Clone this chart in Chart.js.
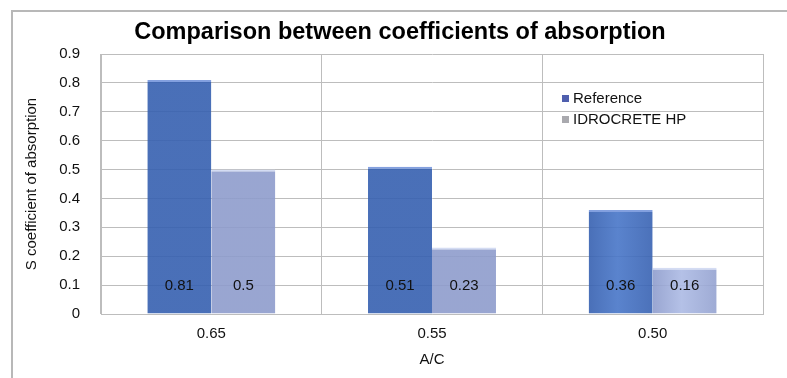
<!DOCTYPE html>
<html>
<head>
<meta charset="utf-8">
<script src="https://cdn.jsdelivr.net/npm/chart.js@4.4.1/dist/chart.umd.min.js"></script>
<style>
  html, body { margin: 0; padding: 0; background: #fff; }
  #wrap { position: relative; width: 787px; height: 378px; overflow: hidden; }
  #frame {
    position: absolute; left: 11px; top: 10px; width: 800px; height: 400px;
    border-top: 2px solid #b8b8b8; border-left: 2px solid #b8b8b8;
  }
  #graph { position: absolute; left: 0; top: 0; }
</style>
</head>
<body>
<div id="wrap">
  <div id="frame"></div>
  <canvas id="graph" width="787" height="378"></canvas>
</div>
<script>
// water/cement ratios on the x axis
const categories = ['0.65', '0.55', '0.50'];
const referenceValues = [0.81, 0.51, 0.36];
const idrocreteValues = [0.5, 0.23, 0.16];
const seriesNames = ['Reference', 'IDROCRETE HP'];
const chartTitle = 'Comparison between coefficients of absorption';

const FONT = '"Liberation Sans", Arial, Helvetica, sans-serif';

// horizontal shading across each bar, a bit like the old office 3d bars
const barShades = [
  ['rgba(54, 96, 176, 0.9)', 'rgba(72, 118, 200, 0.9)', 'rgba(56, 98, 178, 0.9)'],
  ['rgba(142, 156, 204, 0.9)', 'rgba(172, 186, 228, 0.9)', 'rgba(148, 162, 208, 0.9)']
];
const legendMarks = ['#4f5fae', '#a9a9ae'];

const shadeBars = {
  id: 'shadeBars',
  beforeDatasetsDraw(chart) {
    const ctx = chart.ctx;
    chart.data.datasets.forEach((ds, i) => {
      chart.getDatasetMeta(i).data.forEach(bar => {
        const half = bar.width / 2;
        const g = ctx.createLinearGradient(bar.x - half, 0, bar.x + half, 0);
        g.addColorStop(0, barShades[i][0]);
        g.addColorStop(0.45, barShades[i][1]);
        g.addColorStop(1, barShades[i][2]);
        bar.options.backgroundColor = g;
      });
    });
  }
};

// values written near the foot of each bar
const baseLabels = {
  id: 'baseLabels',
  afterDatasetsDraw(chart) {
    const ctx = chart.ctx;
    ctx.save();
    ctx.font = '15px ' + FONT;
    ctx.fillStyle = '#111';
    ctx.textAlign = 'center';
    ctx.textBaseline = 'middle';
    chart.data.datasets.forEach((ds, i) => {
      chart.getDatasetMeta(i).data.forEach((bar, j) => {
        ctx.fillText(String(ds.data[j]), bar.x, bar.base - 28);
      });
    });
    ctx.restore();
  }
};

// small legend inside the plot, upper right
const innerLegend = {
  id: 'innerLegend',
  afterDraw(chart) {
    const ctx = chart.ctx;
    const x = chart.chartArea.left + 461;
    let y = chart.chartArea.top + 44;
    ctx.save();
    ctx.font = '15px ' + FONT;
    ctx.textBaseline = 'middle';
    chart.data.datasets.forEach((ds, i) => {
      ctx.fillStyle = legendMarks[i];
      ctx.fillRect(x, y - 3, 7, 7);
      ctx.fillStyle = '#111';
      ctx.fillText(ds.label, x + 11, y + 1);
      y += 21;
    });
    ctx.restore();
  }
};

// heading centred on the whole frame rather than the plot
const heading = {
  id: 'heading',
  afterDraw(chart) {
    const ctx = chart.ctx;
    ctx.save();
    ctx.font = 'bold 23.5px ' + FONT;
    ctx.fillStyle = '#000';
    ctx.textAlign = 'center';
    ctx.textBaseline = 'middle';
    ctx.fillText(chartTitle, 400, 33);
    ctx.restore();
  }
};

const data1 = {
  labels: categories,
  datasets: [{
    label: seriesNames[0],
    data: referenceValues,
    borderColor: 'rgba(118, 150, 220, 0.9)',
    borderWidth: { top: 2, left: 0, right: 0, bottom: 0 },
    borderSkipped: 'bottom'
  }, {
    label: seriesNames[1],
    data: idrocreteValues,
    borderColor: 'rgba(210, 218, 242, 0.95)',
    borderWidth: { top: 2, left: 0, right: 0, bottom: 0 },
    borderSkipped: 'bottom'
  }]
};

const config = {
  type: 'bar',
  data: data1,
  plugins: [shadeBars, baseLabels, innerLegend, heading],
  options: {
    responsive: false,
    animation: false,
    layout: { padding: { top: 54, left: 14, right: 24, bottom: 0 } },
    datasets: {
      bar: { categoryPercentage: 0.58, barPercentage: 1 }
    },
    plugins: {
      legend: { display: false },
      tooltip: { enabled: false },
      title: { display: false }
    },
    scales: {
      x: {
        grid: { color: '#bdbdbd', drawTicks: false, offset: true },
        border: { color: '#bdbdbd' },
        ticks: { color: '#111', padding: 11, font: { family: FONT, size: 15 } },
        title: {
          display: true, text: 'A/C', color: '#111',
          font: { family: FONT, size: 15, lineHeight: 1.2 },
          padding: { top: 0, bottom: 9 }
        },
        afterFit(scale) { scale.height = 64; }
      },
      y: {
        min: 0,
        max: 0.9,
        grid: { color: '#bdbdbd', drawTicks: false },
        border: { color: '#bdbdbd' },
        ticks: {
          stepSize: 0.1,
          color: '#111',
          padding: 21,
          font: { family: FONT, size: 15 },
          callback: v => (Math.abs(v) < 1e-9 ? '0' : v.toFixed(1))
        },
        title: {
          display: true, text: 'S coefficient of absorption', color: '#111',
          font: { family: FONT, size: 15, lineHeight: 1.2 },
          padding: { top: 9, bottom: 0 }
        },
        afterFit(scale) { scale.width = 87; }
      }
    }
  }
};

const ctx = document.getElementById('graph').getContext('2d');
new Chart(ctx, config);
</script>
</body>
</html>
